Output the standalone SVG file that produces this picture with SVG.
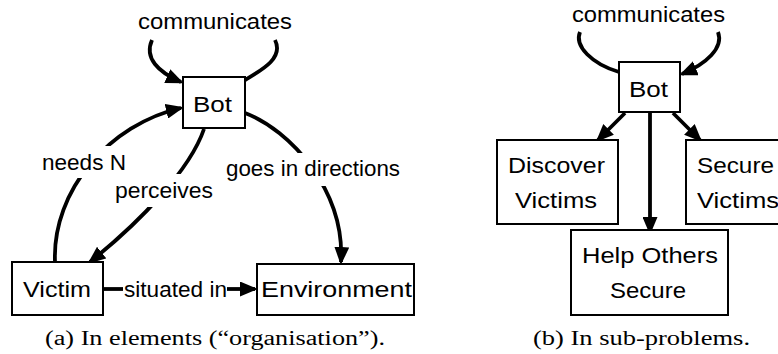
<svg xmlns="http://www.w3.org/2000/svg" width="778" height="354" viewBox="0 0 778 354">
<style>
.box{fill:#fff;stroke:#000;stroke-width:2}
.t{font-family:"Liberation Sans",Arial,sans-serif;font-size:21.5px;fill:#000}
.e{fill:none;stroke:#000;stroke-width:3.8}
.ea{fill:none;stroke:#000;stroke-width:3.8;marker-end:url(#ah)}
.bg{fill:#fff}
.cap{font-family:"Liberation Serif","Times New Roman",serif;font-size:20px;fill:#000}
</style>
<defs>
<marker id="ah" markerUnits="userSpaceOnUse" markerWidth="19" markerHeight="15" refX="15" refY="7.5" orient="auto">
<path d="M0,0 L18,7.5 L0,15 z" fill="#000"/>
</marker>
</defs>
<rect width="778" height="354" fill="#fff"/>

<g id="connectors">
<!-- left diagram -->
<path class="e" d="M245,80 C262,70 284,58 275,40"/>
<path class="ea" d="M152,40 C144,58 158,72 181,82"/>
<path class="ea" d="M55,262 C52,190 110,124 181,108"/>
<path class="ea" d="M204,129 C190,170 140,222 90,262"/>
<path class="ea" d="M245,113 C290,130 345,190 341,262"/>
<path class="e" d="M103,289 L123,289"/>
<path class="ea" d="M227,289 L255,289"/>
<rect class="bg" x="38" y="146" width="92" height="32"/>
<rect class="bg" x="111" y="174" width="106" height="33"/>
<rect class="bg" x="222" y="153" width="182" height="33"/>
<text class="t" x="138" y="29" textLength="154" lengthAdjust="spacingAndGlyphs">communicates</text>
<text class="t" x="42" y="170" textLength="84" lengthAdjust="spacingAndGlyphs">needs N</text>
<text class="t" x="115" y="198" textLength="98" lengthAdjust="spacingAndGlyphs">perceives</text>
<text class="t" x="226" y="176" textLength="174" lengthAdjust="spacingAndGlyphs">goes in directions</text>
<text class="t" x="124" y="297" textLength="103" lengthAdjust="spacingAndGlyphs">situated in</text>
<!-- right diagram -->
<path class="e" d="M580,32 C574,46 592,64 619,72"/>
<path class="ea" d="M718,32 C724,48 706,64 682,74"/>
<path class="ea" d="M625,113 L598,140"/>
<path class="ea" d="M673,113 L700,140"/>
<path class="ea" d="M650,113 L650,232"/>
<text class="t" x="572" y="22" textLength="153" lengthAdjust="spacingAndGlyphs">communicates</text>
</g>

<g id="bot-a">
<rect class="box" x="183" y="77" width="62" height="51"/>
<text class="t" x="193" y="112" textLength="39" lengthAdjust="spacingAndGlyphs">Bot</text>
</g>
<g id="victim">
<rect class="box" x="12" y="262" width="91" height="53"/>
<text class="t" x="23" y="297" textLength="68" lengthAdjust="spacingAndGlyphs">Victim</text>
</g>
<g id="environment">
<rect class="box" x="257" y="264" width="157" height="51"/>
<text class="t" x="261" y="297" textLength="151" lengthAdjust="spacingAndGlyphs">Environment</text>
</g>

<g id="bot-b">
<rect class="box" x="619" y="62" width="61" height="50"/>
<text class="t" x="629" y="97" textLength="39" lengthAdjust="spacingAndGlyphs">Bot</text>
</g>
<g id="discover-victims">
<rect class="box" x="497" y="140" width="121" height="84"/>
<text class="t" x="508" y="173" textLength="97" lengthAdjust="spacingAndGlyphs">Discover</text>
<text class="t" x="515" y="208" textLength="82" lengthAdjust="spacingAndGlyphs">Victims</text>
</g>
<g id="secure-victims">
<rect class="box" x="686" y="140" width="110" height="84"/>
<text class="t" x="697" y="173" textLength="77" lengthAdjust="spacingAndGlyphs">Secure</text>
<text class="t" x="697" y="208" textLength="82" lengthAdjust="spacingAndGlyphs">Victims</text>
</g>
<g id="help-others-secure">
<rect class="box" x="571" y="230" width="157" height="85"/>
<text class="t" x="582" y="263" textLength="136" lengthAdjust="spacingAndGlyphs">Help Others</text>
<text class="t" x="610" y="298" textLength="76" lengthAdjust="spacingAndGlyphs">Secure</text>
</g>

<g id="captions">
<text class="cap" x="45" y="345" textLength="340" lengthAdjust="spacingAndGlyphs">(a) In elements (“organisation”).</text>
<text class="cap" x="533" y="345" textLength="217" lengthAdjust="spacingAndGlyphs">(b) In sub-problems.</text>
</g>
</svg>
